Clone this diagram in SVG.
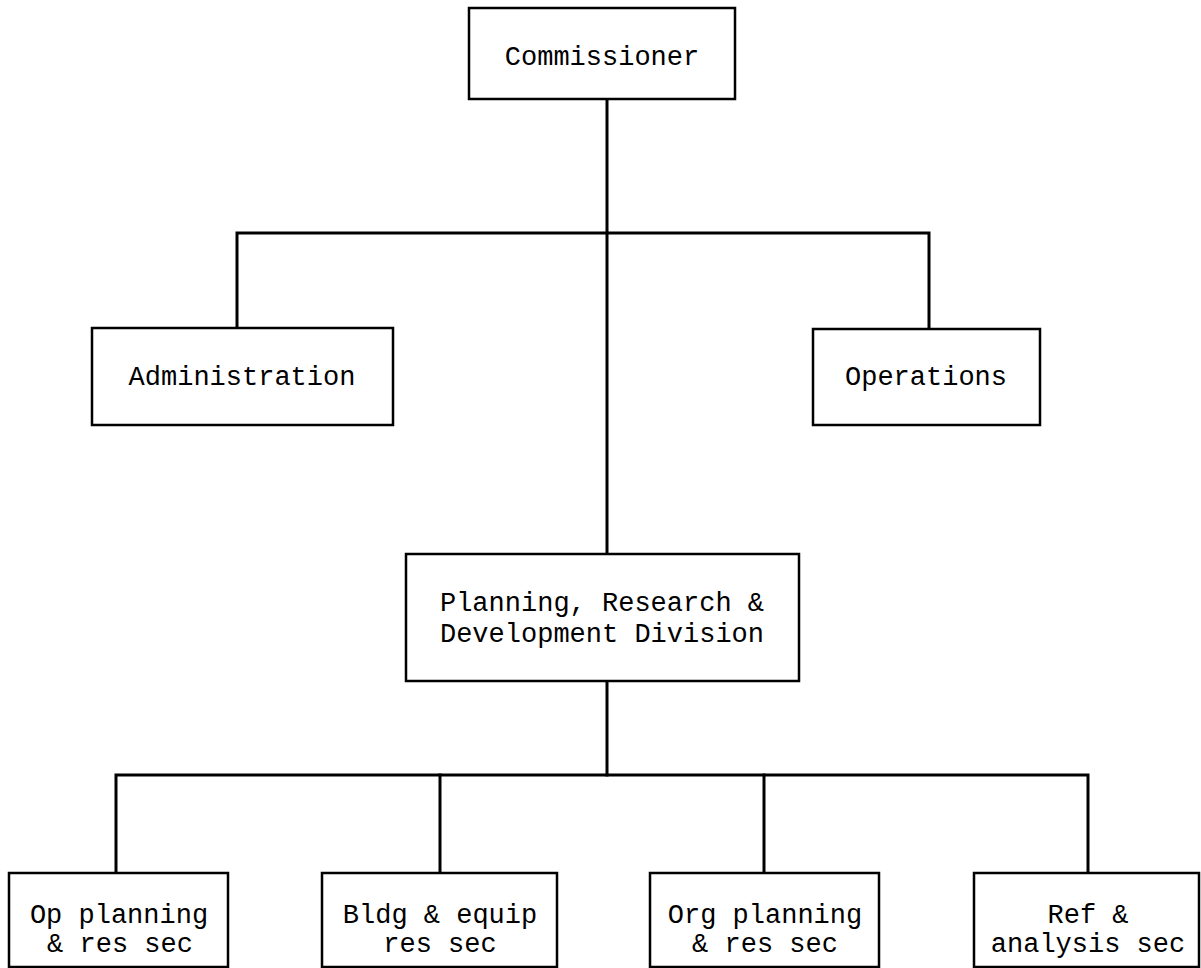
<svg xmlns="http://www.w3.org/2000/svg" width="1201" height="968" viewBox="0 0 1201 968">
<style>
.box{fill:#fff;stroke:#000;stroke-width:2.5}
.con{fill:none;stroke:#000;stroke-width:3;stroke-linecap:square}
text{font-family:"Liberation Mono","Courier New",monospace;font-size:27px;fill:#000;text-anchor:middle}
</style>
<rect width="1201" height="968" fill="#fff"/>
<g id="connectors">
<path class="con" d="M607 99 V554"/>
<path class="con" d="M237 328 V233 H929 V329"/>
<path class="con" d="M607 681 V775"/>
<path class="con" d="M116 873 V775 H1088 V873"/>
<path class="con" d="M440 775 V873"/>
<path class="con" d="M764 775 V873"/>
</g>
<g id="commissioner"><rect class="box" x="469" y="8" width="266" height="91"/><text x="602" y="65">Commissioner</text></g>
<g id="administration"><rect class="box" x="92" y="328" width="301" height="97"/><text x="242" y="385">Administration</text></g>
<g id="operations"><rect class="box" x="813" y="329" width="227" height="96"/><text x="926" y="385">Operations</text></g>
<g id="prd"><rect class="box" x="406" y="554" width="393" height="127"/><text x="602" y="611">Planning, Research &amp;</text><text x="602" y="642">Development Division</text></g>
<g id="op-planning"><rect class="box" x="9" y="873" width="219" height="94"/><text x="119" y="923">Op planning</text><text x="120" y="952">&amp; res sec</text></g>
<g id="bldg"><rect class="box" x="322" y="873" width="235" height="94"/><text x="440" y="923">Bldg &amp; equip</text><text x="440" y="952">res sec</text></g>
<g id="org-planning"><rect class="box" x="650" y="873" width="229" height="94"/><text x="765" y="923">Org planning</text><text x="765" y="952">&amp; res sec</text></g>
<g id="ref"><rect class="box" x="974" y="873" width="225" height="94"/><text x="1088" y="923">Ref &amp;</text><text x="1088" y="952">analysis sec</text></g>
</svg>
